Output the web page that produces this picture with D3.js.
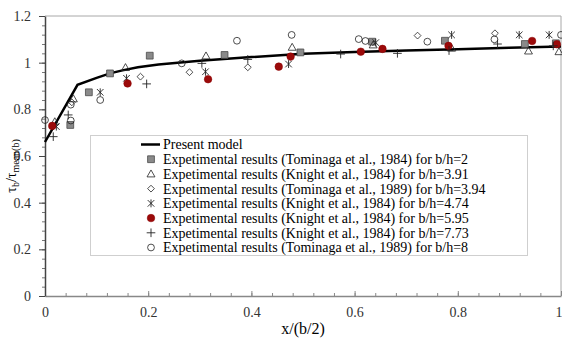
<!DOCTYPE html>
<html>
<head>
<meta charset="utf-8">
<script src="https://cdn.jsdelivr.net/npm/d3@7"></script>
<style>
  body { margin: 0; background: #fff; }
</style>
</head>
<body>
<div id="chart"></div>
<script>
// present model curve
var modelX = [0, 0.063, 0.1, 0.126, 0.15, 0.18, 0.22, 0.3, 0.4, 0.5, 0.6, 0.7, 0.8, 0.9, 1.0];
var modelY = [0.66, 0.905, 0.935, 0.954, 0.967, 0.98, 0.992, 1.008, 1.024, 1.038, 1.046, 1.052, 1.058, 1.064, 1.069];

// experimental series, [x, y]
var tominaga84_2 = [[0.049, 0.733], [0.085, 0.873], [0.126, 0.954], [0.203, 1.03], [0.348, 1.033], [0.495, 1.044], [0.634, 1.09], [0.775, 1.094], [0.93, 1.08], [0.99, 1.083]];
var knight_391 = [[0.019, 0.747], [0.055, 0.845], [0.156, 0.979], [0.312, 1.029], [0.479, 1.066], [0.636, 1.076], [0.788, 1.062], [0.937, 1.05], [0.996, 1.047]];
var tominaga89_394 = [[0.052, 0.83], [0.185, 0.94], [0.28, 0.959], [0.393, 0.98], [0.722, 1.116], [0.872, 1.126]];
var knight_474 = [[0.022, 0.726], [0.107, 0.873], [0.158, 0.933], [0.311, 0.961], [0.472, 0.994], [0.641, 1.086], [0.788, 1.119], [0.919, 1.119], [0.977, 1.119]];
var knight_595 = [[0.014, 0.729], [0.16, 0.911], [0.316, 0.929], [0.453, 0.983], [0.476, 1.026], [0.612, 1.047], [0.654, 1.059], [0.782, 1.072], [0.944, 1.093], [0.992, 1.079]];
var knight_773 = [[0.016, 0.683], [0.045, 0.776], [0.197, 0.909], [0.304, 0.997], [0.393, 1.014], [0.573, 1.037], [0.683, 1.04], [0.783, 1.052], [0.877, 1.08], [0.985, 1.072]];
var tominaga89_8 = [[0.0, 0.754], [0.05, 0.752], [0.05, 0.82], [0.107, 0.84], [0.265, 0.997], [0.372, 1.094], [0.478, 1.119], [0.608, 1.101], [0.621, 1.093], [0.741, 1.09], [0.871, 1.1], [1.0, 1.119]];

var legendLabels = [
  "Present model",
  "Expetimental results (Tominaga et al., 1984) for b/h=2",
  "Expetimental results (Knight et al., 1984) for b/h=3.91",
  "Expetimental results (Tominaga et al., 1989) for b/h=3.94",
  "Expetimental results (Knight et al., 1984) for b/h=4.74",
  "Expetimental results (Knight et al., 1984) for b/h=5.95",
  "Expetimental results (Knight et al., 1984) for b/h=7.73",
  "Expetimental results (Tominaga et al., 1989) for b/h=8"
];

var xTicks = [0, 0.2, 0.4, 0.6, 0.8, 1];
var yTicks = [0, 0.2, 0.4, 0.6, 0.8, 1, 1.2];

var W = 562, H = 340;
var margin = {top: 16, right: 1, bottom: 44, left: 45};
var FONT = "Liberation Serif";

var svg = d3.select("#chart").append("svg")
    .attr("width", W)
    .attr("height", H)
    .attr("font-family", FONT);

var x = d3.scaleLinear().domain([0, 1]).range([margin.left, W - margin.right]);
var y = d3.scaleLinear().domain([0, 1.2]).range([H - margin.bottom, margin.top]);

var fmt = function(d) { return String(+d.toFixed(1)); };

// frame (top / right)
svg.append("path")
    .attr("d", "M" + x(0) + "," + y(1.2) + "H" + x(1) + "V" + y(0))
    .attr("fill", "none")
    .attr("stroke", "#a8a8a8")
    .attr("stroke-width", 1);

// minor ticks
svg.append("g")
    .attr("transform", "translate(0," + y(0) + ")")
    .call(d3.axisBottom(x).tickValues(d3.range(0, 1.001, 0.04)).tickSize(-3).tickFormat(""))
    .call(g => g.select(".domain").remove())
    .selectAll("line").attr("stroke", "#888");

svg.append("g")
    .attr("transform", "translate(" + x(0) + ",0)")
    .call(d3.axisLeft(y).tickValues(d3.range(0, 1.201, 0.04)).tickSize(3).tickFormat(""))
    .call(g => g.select(".domain").remove())
    .selectAll("line").attr("stroke", "#777");

// x axis
var xAxis = svg.append("g")
    .attr("transform", "translate(0," + y(0) + ")")
    .call(d3.axisBottom(x).tickValues(xTicks).tickSizeInner(-5).tickSizeOuter(0).tickPadding(11).tickFormat(fmt))
    .attr("font-family", FONT)
    .attr("font-size", 14);
xAxis.select(".domain").attr("stroke", "#888").attr("stroke-width", 1.5);
xAxis.selectAll("line").attr("stroke", "#888");
xAxis.selectAll("text").attr("fill", "#333");
// last label sits on the page edge
xAxis.selectAll("text").filter(d => d === 1).attr("text-anchor", "end").attr("x", 1);

// y axis
var yAxis = svg.append("g")
    .attr("transform", "translate(" + x(0) + ",0)")
    .call(d3.axisLeft(y).tickValues(yTicks).tickSizeInner(6).tickSizeOuter(0).tickPadding(8).tickFormat(fmt))
    .attr("font-family", FONT)
    .attr("font-size", 14);
yAxis.select(".domain").attr("stroke", "#444").attr("stroke-width", 1.5);
yAxis.selectAll("line").attr("stroke", "#444");
yAxis.selectAll("text").attr("fill", "#333");

// axis titles
svg.append("text")
    .attr("x", x(0.5))
    .attr("y", 334)
    .attr("text-anchor", "middle")
    .attr("font-size", 16)
    .text("x/(b/2)");

var yt = svg.append("text")
    .attr("transform", "translate(16,166) rotate(-90)")
    .attr("text-anchor", "middle")
    .attr("font-size", 14);
yt.append("tspan").text("τ");
yt.append("tspan").attr("dy", 3).attr("font-size", 10).text("b");
yt.append("tspan").attr("dy", -3).text("/τ");
yt.append("tspan").attr("dy", 3).attr("font-size", 10).text("mean(b)");

// marker shapes
function markerPath(type, s) {
  var p = d3.path();
  if (type === "square") {
    p.rect(-s, -s, 2 * s, 2 * s);
  } else if (type === "triangle") {
    var h = s * 1.1;
    p.moveTo(0, -h); p.lineTo(h, h * 0.75); p.lineTo(-h, h * 0.75); p.closePath();
  } else if (type === "diamond") {
    p.moveTo(0, -s); p.lineTo(s, 0); p.lineTo(0, s); p.lineTo(-s, 0); p.closePath();
  } else if (type === "star") {
    p.moveTo(-s, -s); p.lineTo(s, s);
    p.moveTo(s, -s); p.lineTo(-s, s);
    p.moveTo(0, -s * 1.2); p.lineTo(0, s * 1.2);
  } else if (type === "plus") {
    p.moveTo(-s * 1.2, 0); p.lineTo(s * 1.2, 0);
    p.moveTo(0, -s * 1.2); p.lineTo(0, s * 1.2);
  } else {
    p.arc(0, 0, s, 0, 2 * Math.PI);
  }
  return p.toString();
}

var series = [
  {data: tominaga84_2, type: "square", size: 3.4, fill: "#8a8a8a", stroke: "#4a4a4a", sw: 0.8},
  {data: knight_391, type: "triangle", size: 3.6, fill: "none", stroke: "#222", sw: 0.8},
  {data: tominaga89_394, type: "diamond", size: 3.4, fill: "none", stroke: "#222", sw: 0.8},
  {data: knight_474, type: "star", size: 3.3, fill: "none", stroke: "#222", sw: 0.9},
  {data: knight_595, type: "circle", size: 3.8, fill: "#9b0a0a", stroke: "#8a0000", sw: 0.5},
  {data: knight_773, type: "plus", size: 3.6, fill: "none", stroke: "#222", sw: 0.9},
  {data: tominaga89_8, type: "circle", size: 3.4, fill: "none", stroke: "#222", sw: 0.8}
];

// model line
var line = d3.line()
    .x(d => x(d[0]))
    .y(d => y(d[1]));

svg.append("path")
    .datum(modelX.map((v, i) => [v, modelY[i]]))
    .attr("d", line)
    .attr("fill", "none")
    .attr("stroke", "#000")
    .attr("stroke-width", 2.5);

// points
series.forEach(function(s) {
  svg.append("g").selectAll("path")
      .data(s.data)
    .enter().append("path")
      .attr("transform", d => "translate(" + x(d[0]) + "," + y(d[1]) + ")")
      .attr("d", markerPath(s.type, s.size))
      .attr("fill", s.fill)
      .attr("stroke", s.stroke)
      .attr("stroke-width", s.sw);
});

// legend
var legend = svg.append("g");
legend.append("rect")
    .attr("x", 90.5)
    .attr("y", 135.5)
    .attr("width", 437)
    .attr("height", 120)
    .attr("fill", "#fff")
    .attr("stroke", "#cfcfcf");

var rowY = d3.scaleLinear().domain([0, 7]).range([144.5, 247.5]);

legendLabels.forEach(function(label, i) {
  var ly = rowY(i);
  if (i === 0) {
    legend.append("line")
        .attr("x1", 141).attr("x2", 160)
        .attr("y1", ly).attr("y2", ly)
        .attr("stroke", "#000")
        .attr("stroke-width", 2.5);
  } else {
    var s = series[i - 1];
    legend.append("path")
        .attr("transform", "translate(151," + ly + ")")
        .attr("d", markerPath(s.type, s.size))
        .attr("fill", s.fill)
        .attr("stroke", s.stroke)
        .attr("stroke-width", s.sw);
  }
  legend.append("text")
      .attr("x", 163)
      .attr("y", ly)
      .attr("dy", "0.35em")
      .attr("font-size", 14)
      .text(label);
});
</script>
</body>
</html>
